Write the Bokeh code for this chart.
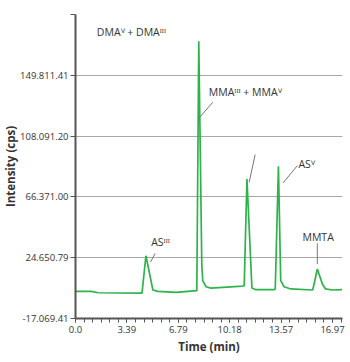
import numpy as np
from bokeh.plotting import figure
from bokeh.models import FixedTicker, Range1d, Label, Title
from bokeh.embed import file_html
from bokeh.resources import INLINE

# ---- data ----
time_min = [0.0, 1.05, 1.49, 4.39, 4.65, 5.11, 5.44, 6.65, 8.01, 8.14, 8.34, 8.40,
            8.62, 8.95, 11.03, 11.14, 11.32, 11.65, 11.91, 13.11, 13.19, 13.40,
            13.55, 13.77, 14.21, 15.64, 15.68, 15.97, 16.30, 16.51, 16.95, 17.61]
intensity = [1500, 1500, 600, 400, 26000, 2500, 1500, 800, 2000, 173200, 20000, 8900,
             4700, 3800, 5200, 5500, 78700, 3800, 2700, 2700, 3200, 87350,
             8900, 4700, 3200, 2500, 3200, 16900, 6600, 3200, 2500, 2700]

x_tick_values = [0.0, 3.39, 6.79, 10.18, 13.57, 16.97]
x_tick_labels = ["0.0", "3.39", "6.79", "10.18", "13.57", "16.97"]
y_tick_values = [-17069.41, 24650.79, 66371.00, 108091.20, 149811.41, 191531.62]
y_tick_labels = ["-17.069.41", "24.650.79", "66.371.00", "108.091.20", "149.811.41", ""]

peak_names = ["DMAⱽ + DMAᴵᴵᴵ", "MMAᴵᴵᴵ + MMAⱽ", "ASⱽ", "ASᴵᴵᴵ", "MMTA"]

X0, X1 = 0.0, 17.63
Y0, Y1 = -17069.41, 191531.62

p = figure(width=350, height=362, output_backend="svg", toolbar_location=None,
           x_range=Range1d(X0, X1), y_range=Range1d(Y0, Y1),
           min_border_left=74, min_border_right=8, min_border_top=14,
           min_border_bottom=44)
p.outline_line_color = None
p.background_fill_color = "white"
p.border_fill_color = "white"

p.line(time_min, intensity, line_color="#2db34a", line_width=1.7)

# axes
minor = list(np.arange(0, 17.62, 3.394 / 6))
p.xaxis.ticker = FixedTicker(ticks=x_tick_values, minor_ticks=minor)
p.yaxis.ticker = FixedTicker(ticks=y_tick_values, minor_ticks=[])
p.xaxis.major_label_overrides = dict(zip(x_tick_values, x_tick_labels))
p.yaxis.major_label_overrides = dict(zip(y_tick_values, y_tick_labels))
for ax in (p.xaxis, p.yaxis):
    ax.axis_line_color = "#555555"
    ax.axis_line_width = 2
    ax.major_tick_line_color = "#555555"
    ax.minor_tick_line_color = "#555555"
    ax.major_tick_in = 0
    ax.minor_tick_in = 0
    ax.major_label_text_font = "Open Sans"
    ax.major_label_text_font_size = "9.5px"
    ax.major_label_text_color = "#333333"
p.xaxis.major_tick_out = 4
p.xaxis.minor_tick_out = 4
p.xaxis.major_label_standoff = 3
p.yaxis.major_tick_out = 5
p.yaxis.major_label_standoff = 2
p.yaxis.minor_tick_line_color = None

p.xgrid.visible = False
p.ygrid.grid_line_color = "#a8a8a8"
p.ygrid.grid_line_width = 1

# axis titles (as side titles so they can be offset like the reference)
p.add_layout(Title(text="Time (min)", align="center", offset=-7,
                   text_font="Open Sans", text_font_style="bold",
                   text_font_size="11.5px", text_color="#333333", standoff=2),
             "below")
p.add_layout(Title(text="Intensity (cps)", align="center", offset=-32,
                   text_font="Open Sans", text_font_style="bold",
                   text_font_size="11.5px", text_color="#333333", standoff=0),
             "left")

# peak annotations
label_pos = [(1.41, 179856, "left"), (8.80, 138651, "left"), (14.72, 89205, "left"),
             (5.00, 35158, "left"), (16.02, 39072, "center")]
for name, (lx, ly, al) in zip(peak_names, label_pos):
    p.add_layout(Label(x=lx, y=ly, text=name, text_align=al, text_baseline="middle",
                       text_font="Open Sans", text_font_size="10.5px",
                       text_color="#333333"))

leaders = [(8.112, 119902, 9.059, 131303), (11.467, 76363, 11.862, 95386),
           (13.704, 75951, 14.651, 87832), (4.954, 21698, 5.263, 27604),
           (15.967, 20325, 15.967, 34471)]
p.segment(x0=[l[0] for l in leaders], y0=[l[1] for l in leaders],
          x1=[l[2] for l in leaders], y1=[l[3] for l in leaders],
          line_color="#777777", line_width=1)

open("out.html", "w").write(file_html(p, INLINE))
